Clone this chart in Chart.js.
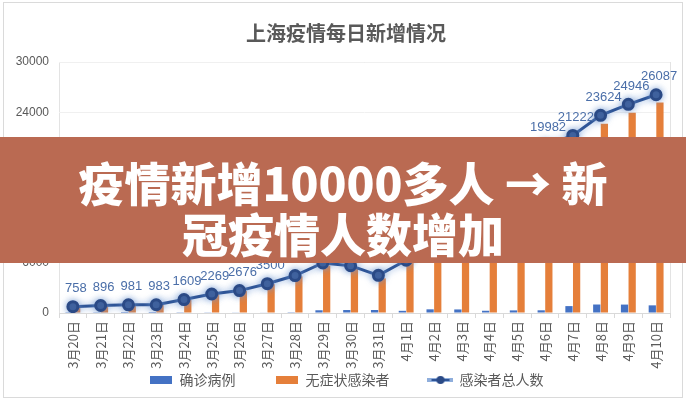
<!DOCTYPE html>
<html>
<head>
<meta charset="utf-8">
<script src="https://cdn.jsdelivr.net/npm/chart.js@4"></script>
<style>
  body { margin: 0; background: #fff; }
  #wrap { position: relative; width: 686px; height: 400px; }
  #banner {
    position: absolute; left: 0; top: 137px; width: 686px; height: 126px;
    background: #BA6A52; color: #fff; text-align: center;
    font-family: "Noto Sans CJK SC", sans-serif; font-weight: 900;
    font-size: 46px; line-height: 51px; padding-top: 19px; box-sizing: border-box;
  }
</style>
</head>
<body>
<div id="wrap">
  <canvas id="chart" width="686" height="400"></canvas>
  <div id="banner">疫情新增10000多人 → 新<br>冠疫情人数增加</div>
</div>
<script>
// chart data
const categories = ['3月20日', '3月21日', '3月22日', '3月23日', '3月24日', '3月25日', '3月26日', '3月27日',
  '3月28日', '3月29日', '3月30日', '3月31日', '4月1日', '4月2日', '4月3日', '4月4日', '4月5日',
  '4月6日', '4月7日', '4月8日', '4月9日', '4月10日'];
const confirmed = [24, 31, 4, 4, 29, 38, 45, 50, 96, 326, 355, 358, 260, 438, 425, 268, 311, 322, 824, 1015, 1006, 914];
const asymptomatic = [734, 865, 977, 979, 1580, 2231, 2631, 3450, 4381, 5656, 5298, 4144, 6051, 7788, 8581,
  13086, 16766, 19660, 20398, 22609, 23937, 25173];
const total = [758, 896, 981, 983, 1609, 2269, 2676, 3500, 4477, 5982, 5653, 4502, 6311, 8226, 9006,
  13354, 17077, 19982, 21222, 23624, 24946, 26087];
const yTicks = [0, 6000, 12000, 18000, 24000, 30000];

const textColor = '#595959';
const cjk = '"Noto Sans CJK SC", "Liberation Sans", sans-serif';

// legend icons
function rectIcon(color) {
  const c = document.createElement('canvas');
  c.width = 22; c.height = 8;
  const g = c.getContext('2d');
  g.fillStyle = color;
  g.fillRect(0, 0, 22, 8);
  return c;
}
function lineIcon() {
  const c = document.createElement('canvas');
  c.width = 26; c.height = 10;
  const g = c.getContext('2d');
  g.strokeStyle = '#8FAEDC';
  g.lineWidth = 4;
  g.beginPath(); g.moveTo(0, 5); g.lineTo(26, 5); g.stroke();
  g.strokeStyle = '#2F5597';
  g.lineWidth = 2;
  g.beginPath(); g.moveTo(4, 5); g.lineTo(22, 5); g.stroke();
  g.fillStyle = '#2B4A86';
  g.beginPath(); g.arc(13, 5, 4, 0, Math.PI * 2); g.fill();
  return c;
}

// let tick labels spill outside their (fixed size) axis boxes
function noLabelClip(scale) {
  scale._computeLabelArea = () => null;
}

// borders around the whole chart and the plot area
const framePlugin = {
  id: 'frame',
  beforeDraw(chart) {
    const ctx = chart.ctx;
    const a = chart.chartArea;
    ctx.save();
    ctx.strokeStyle = '#DADADA';
    ctx.lineWidth = 1;
    ctx.strokeRect(3.5, 2.5, 679, 395);
    ctx.strokeStyle = '#E3E3E3';
    ctx.strokeRect(Math.round(a.left) + 0.5, Math.round(a.top) + 0.5, a.right - a.left, a.bottom - a.top);
    ctx.restore();
  }
};

// soft glow under the total line
const glowPlugin = {
  id: 'glow',
  beforeDatasetDraw(chart, args) {
    if (args.index !== 2) return;
    const ctx = chart.ctx;
    ctx.save();
    ctx.shadowColor = 'rgba(110,150,210,0.75)';
    ctx.shadowBlur = 7;
  },
  afterDatasetDraw(chart, args) {
    if (args.index !== 2) return;
    chart.ctx.restore();
  }
};

// value labels on the total line
const labelPlugin = {
  id: 'lineLabels',
  afterDatasetsDraw(chart) {
    const ctx = chart.ctx;
    const meta = chart.getDatasetMeta(2);
    ctx.save();
    ctx.font = '13px "Liberation Sans", sans-serif';
    ctx.fillStyle = '#4A6EA8';
    ctx.textAlign = 'center';
    ctx.textBaseline = 'middle';
    meta.data.forEach((pt, i) => {
      ctx.fillText(String(total[i]), pt.x + 3, pt.y - 18);
    });
    ctx.restore();
  }
};

const ctx = document.getElementById('chart').getContext('2d');
new Chart(ctx, {
  type: 'bar',
  data: {
    labels: categories,
    datasets: [
      {
        label: '确诊病例',
        data: confirmed,
        backgroundColor: '#4472C4',
        categoryPercentage: 0.55,
        barPercentage: 0.95,
        order: 1,
        pointStyle: rectIcon('#4472C4')
      },
      {
        label: '无症状感染者',
        data: asymptomatic,
        backgroundColor: '#E57F3A',
        categoryPercentage: 0.55,
        barPercentage: 0.95,
        order: 1,
        pointStyle: rectIcon('#E57F3A')
      },
      {
        type: 'line',
        label: '感染者总人数',
        data: total,
        borderColor: '#2F5597',
        borderWidth: 3,
        pointRadius: 5,
        pointBackgroundColor: '#2B4A86',
        pointBorderColor: '#2B4A86',
        tension: 0,
        order: 0,
        pointStyle: 'circle'
      }
    ]
  },
  options: {
    responsive: false,
    animation: false,
    layout: { padding: { left: 22, right: 16, top: 0, bottom: 3 } },
    plugins: {
      title: {
        display: true,
        text: '上海疫情每日新增情况',
        color: textColor,
        font: { family: cjk, size: 20, weight: 'bold' },
        padding: { top: 21, bottom: 17 }
      },
      legend: {
        position: 'bottom',
        labels: {
          usePointStyle: true,
          pointStyleWidth: 24,
          padding: 39,
          color: textColor,
          font: { family: cjk, size: 14 },
          sort: (a, b) => a.datasetIndex - b.datasetIndex,
          generateLabels(chart) {
            return chart.data.datasets.map((ds, i) => ({
              text: ds.label,
              fontColor: textColor,
              pointStyle: i === 2 ? lineIcon() : ds.pointStyle,
              datasetIndex: i,
              lineWidth: 0,
              strokeStyle: 'transparent',
              fillStyle: 'transparent'
            }));
          }
        }
      },
      tooltip: { enabled: false }
    },
    scales: {
      x: {
        afterFit(scale) { scale.height = 21; },
        afterUpdate: noLabelClip,
        grid: { drawOnChartArea: false, drawTicks: true, tickLength: 5, color: '#D9D9D9', offset: true },
        border: { color: '#D9D9D9' },
        ticks: {
          color: textColor,
          font: { family: cjk, size: 13 },
          minRotation: 90,
          maxRotation: 90,
          autoSkip: false,
          padding: 3
        }
      },
      y: {
        min: 0,
        max: 30000,
        afterFit(scale) { scale.width = 37; },
        afterUpdate: noLabelClip,
        afterBuildTicks(scale) { scale.ticks = yTicks.map(v => ({ value: v })); },
        grid: { color: '#F0F0F0', drawTicks: false },
        border: { display: false },
        ticks: {
          color: textColor,
          font: { family: '"Liberation Sans", sans-serif', size: 12 },
          padding: 10,
          callback: v => String(v)
        }
      }
    }
  },
  plugins: [framePlugin, glowPlugin, labelPlugin]
});
</script>
</body>
</html>
